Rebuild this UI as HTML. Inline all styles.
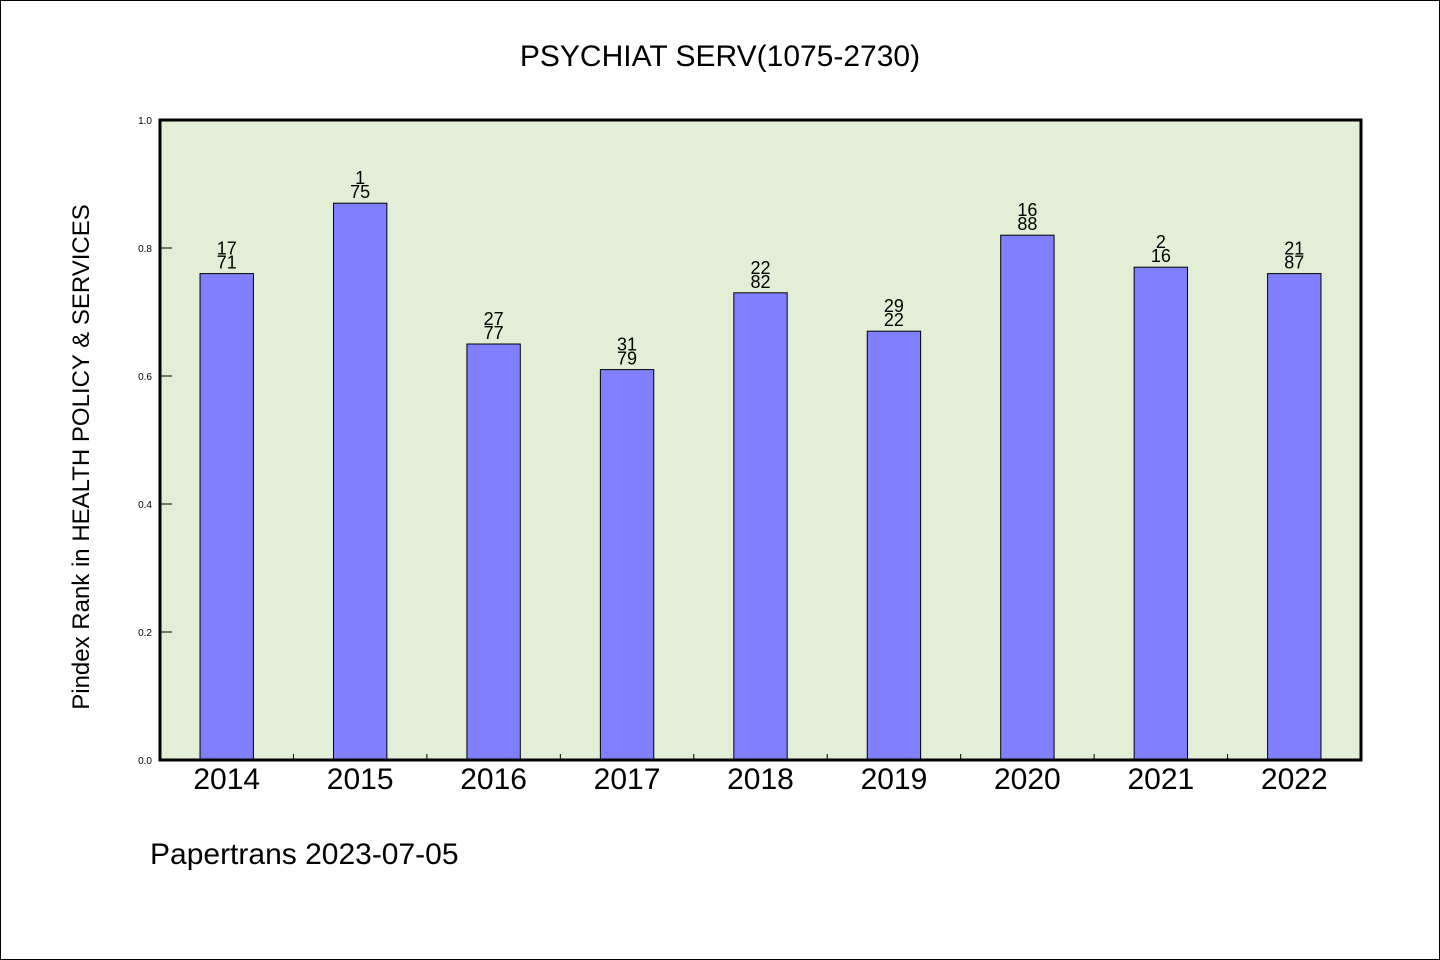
<!DOCTYPE html>
<html><head><meta charset="utf-8"><style>
html,body{margin:0;padding:0;background:#fff;}
svg{display:block;font-family:"WenQuanYi Zen Hei","Liberation Sans",sans-serif;}
</style></head><body>
<svg id="chart" width="1440" height="960" viewBox="0 0 1440 960">
<rect x="0.5" y="0.5" width="1439" height="959" fill="#fff" stroke="#000"/>
<text x="720" y="66" font-size="30" text-anchor="middle">PSYCHIAT SERV(1075-2730)</text>
<rect x="160" y="120" width="1201" height="640" fill="#e2efd6"/>
<g id="bars"></g>
<g id="axes"></g>
<rect x="160" y="120" width="1201" height="640" fill="none" stroke="#000" stroke-width="3"/>
<text transform="translate(89,457) rotate(-90)" font-size="24" text-anchor="middle">Pindex Rank in HEALTH POLICY &amp; SERVICES</text>
<text x="150" y="864" font-size="30">Papertrans 2023-07-05</text>
</svg>
<script>
const categories=["2014","2015","2016","2017","2018","2019","2020","2021","2022"];
const values=[0.76,0.87,0.65,0.61,0.73,0.67,0.82,0.77,0.76];
const ranks=["17","1","27","31","22","29","16","2","21"];
const totals=["71","75","77","79","82","22","88","16","87"];
const yTicks=[0,0.2,0.4,0.6,0.8,1.0];
const ns="http://www.w3.org/2000/svg";
const X0=160,X1=1361,Y0=760,Y1=120;
const bw=(X1-X0)/categories.length;
const y=v=>Y0-(Y0-Y1)*v;
const xc=i=>X0+bw*(i+0.5);
function mk(t,a,p){const e=document.createElementNS(ns,t);for(const k in a)e.setAttribute(k,a[k]);p.appendChild(e);return e;}
const bars=document.getElementById('bars'),axes=document.getElementById('axes');
categories.forEach((c,i)=>{
 const w=bw*0.4;
 const r=mk('rect',{x:xc(i)-w/2,y:y(values[i]),width:w,height:Y0-y(values[i]),fill:'#8080ff',stroke:'#000','stroke-width':1},bars);
 
 
 const t1=mk('text',{x:xc(i),y:y(values[i])-19,'font-size':18,'text-anchor':'middle'},bars);t1.textContent=ranks[i];
 
 
 const t2=mk('text',{x:xc(i),y:y(values[i])-5,'font-size':18,'text-anchor':'middle'},bars);t2.textContent=totals[i];
 
 
 const xl=mk('text',{x:xc(i),y:789,'font-size':30,'text-anchor':'middle'},axes);xl.textContent=c;
 
 
 if(i>0){const tk=mk('line',{x1:X0+bw*i,x2:X0+bw*i,y1:Y0,y2:Y0-6,stroke:'#000'},axes);
 
 }
});
yTicks.forEach(v=>{
 const tk=mk('line',{x1:X0,x2:X0+12,y1:y(v),y2:y(v),stroke:'#000'},axes);
 
 
 const t=mk('text',{x:152,y:y(v)+4,'font-size':10,'text-anchor':'end'},axes);t.textContent=v.toFixed(1);
 
 
});
</script>
</body></html>
